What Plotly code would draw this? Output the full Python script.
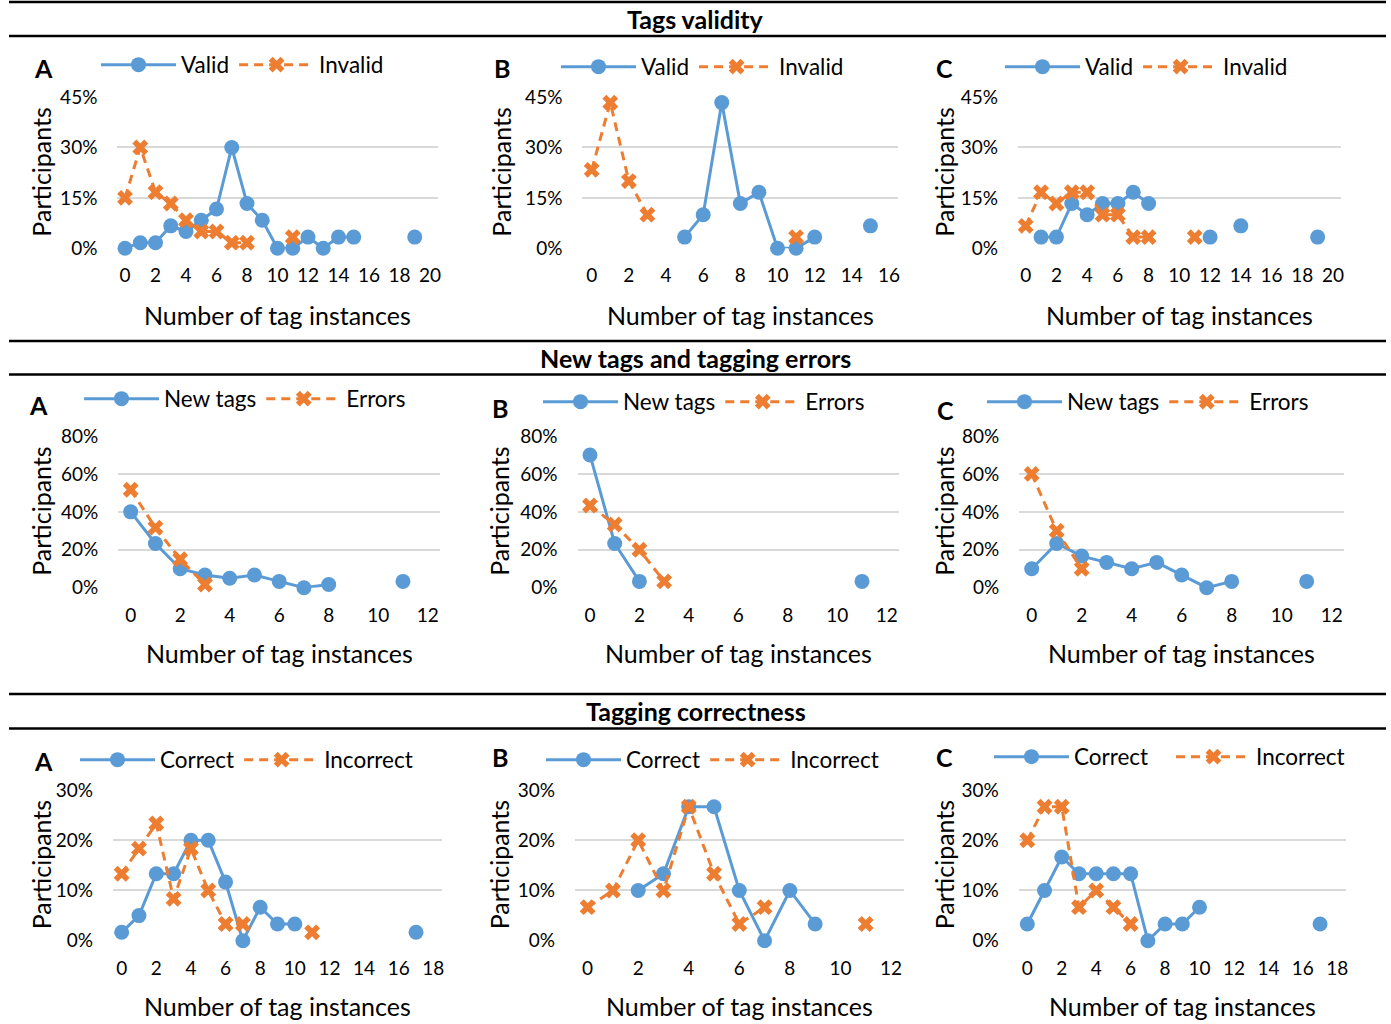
import plotly.graph_objects as go

# ---------------- data (percent of participants) ----------------
# Row 1: Tags validity
tv_A_x = [0, 1, 2, 3, 4, 5, 6, 7, 8, 9, 10, 11, 12, 13, 14, 15, 16, 17, 18, 19]
tv_A_valid = [0, 1.67, 1.67, 6.67, 5, 8.33, 11.67, 30, 13.33, 8.33, 0, 0, 3.33, 0, 3.33, 3.33, None, None, None, 3.33]
tv_A_invalid = [15, 30, 16.67, 13.33, 8.33, 5, 5, 1.67, 1.67, None, None, 3.33, None, None, None, None, None, None, None, None]

tv_B_x = [0, 1, 2, 3, 4, 5, 6, 7, 8, 9, 10, 11, 12, 13, 14, 15]
tv_B_valid = [None, None, None, None, None, 3.33, 10, 43.33, 13.33, 16.67, 0, 0, 3.33, None, None, 6.67]
tv_B_invalid = [23.33, 43.33, 20, 10, None, None, None, None, None, None, None, 3.33, None, None, None, None]

tv_C_x = [0, 1, 2, 3, 4, 5, 6, 7, 8, 9, 10, 11, 12, 13, 14, 15, 16, 17, 18, 19]
tv_C_valid = [None, 3.33, 3.33, 13.33, 10, 13.33, 13.33, 16.67, 13.33, None, None, None, 3.33, None, 6.67, None, None, None, None, 3.33]
tv_C_invalid = [6.67, 16.67, 13.33, 16.67, 16.67, 10, 10, 3.33, 3.33, None, None, 3.33, None, None, None, None, None, None, None, None]

# Row 2: New tags and tagging errors
ne_A_x = [0, 1, 2, 3, 4, 5, 6, 7, 8, 9, 10, 11]
ne_A_new = [40, 23.33, 10, 6.67, 5, 6.67, 3.33, 0, 1.67, None, None, 3.33]
ne_A_err = [51.67, 31.67, 15, 1.67, None, None, None, None, None, None, None, None]

ne_B_x = [0, 1, 2, 3, 4, 5, 6, 7, 8, 9, 10, 11]
ne_B_new = [70, 23.33, 3.33, None, None, None, None, None, None, None, None, 3.33]
ne_B_err = [43.33, 33.33, 20, 3.33, None, None, None, None, None, None, None, None]

ne_C_x = [0, 1, 2, 3, 4, 5, 6, 7, 8, 9, 10, 11]
ne_C_new = [10, 23.33, 16.67, 13.33, 10, 13.33, 6.67, 0, 3.33, None, None, 3.33]
ne_C_err = [60, 30, 10, None, None, None, None, None, None, None, None, None]

# Row 3: Tagging correctness
tc_A_x = [0, 1, 2, 3, 4, 5, 6, 7, 8, 9, 10, 11, 12, 13, 14, 15, 16, 17]
tc_A_cor = [1.67, 5, 13.33, 13.33, 20, 20, 11.67, 0, 6.67, 3.33, 3.33, None, None, None, None, None, None, 1.67]
tc_A_inc = [13.33, 18.33, 23.33, 8.33, 18.33, 10, 3.33, 3.33, None, None, None, 1.67, None, None, None, None, None, None]

tc_B_x = [0, 1, 2, 3, 4, 5, 6, 7, 8, 9, 10, 11]
tc_B_cor = [None, None, 10, 13.33, 26.67, 26.67, 10, 0, 10, 3.33, None, None]
tc_B_inc = [6.67, 10, 20, 10, 26.67, 13.33, 3.33, 6.67, None, None, None, 3.33]

tc_C_x = [0, 1, 2, 3, 4, 5, 6, 7, 8, 9, 10, 11, 12, 13, 14, 15, 16, 17]
tc_C_cor = [3.33, 10, 16.67, 13.33, 13.33, 13.33, 13.33, 0, 3.33, 3.33, 6.67, None, None, None, None, None, None, 3.33]
tc_C_inc = [20, 26.67, 26.67, 6.67, 10, 6.67, 3.33, None, None, None, None, None, None, None, None, None, None, None]

section_titles = ["Tags validity", "New tags and tagging errors", "Tagging correctness"]
panel_letters = ["A", "B", "C"]
x_title = "Number of tag instances"
y_title = "Participants"

# ---------------- layout helpers ----------------
W, H = 1391, 1024
BLUE = "#5B9BD5"
ORANGE = "#ED7D31"
GRID = "#D9D9D9"
FONT = "Lato"
LEG_PAD = 7  # plotly's inner legend padding (px)

def px_x(v):
    return v / W

def px_y(v):
    return 1 - v / H

panels = [
    dict(x=tv_A_x, s1=tv_A_valid, s2=tv_A_invalid, n1="Valid", n2="Invalid", xmax=20, ymax=45, dy=15,
         box=(117.4, 437.6, 97, 248.3), leg=(103, 65), let=(43, 68), yt=41, lw1=None),
    dict(x=tv_B_x, s1=tv_B_valid, s2=tv_B_invalid, n1="Valid", n2="Invalid", xmax=16, ymax=45, dy=15,
         box=(582.4, 898.3, 97, 248.3), leg=(563, 67), let=(502, 68), yt=501, lw1=None),
    dict(x=tv_C_x, s1=tv_C_valid, s2=tv_C_invalid, n1="Valid", n2="Invalid", xmax=20, ymax=45, dy=15,
         box=(1018, 1340.7, 97, 248.3), leg=(1007, 67), let=(944, 68), yt=944, lw1=None),
    dict(x=ne_A_x, s1=ne_A_new, s2=ne_A_err, n1="New tags", n2="Errors", xmax=12, ymax=80, dy=20,
         box=(118.3, 440.1, 436, 587.7), leg=(86, 399), let=(38.5, 405), yt=41, lw1=None),
    dict(x=ne_B_x, s1=ne_B_new, s2=ne_B_err, n1="New tags", n2="Errors", xmax=12, ymax=80, dy=20,
         box=(577.6, 899.1, 436, 587.7), leg=(545, 402), let=(499.5, 408), yt=499, lw1=None),
    dict(x=ne_C_x, s1=ne_C_new, s2=ne_C_err, n1="New tags", n2="Errors", xmax=12, ymax=80, dy=20,
         box=(1019.2, 1344.2, 436, 587.7), leg=(989, 402), let=(945.5, 410), yt=944, lw1=None),
    dict(x=tc_A_x, s1=tc_A_cor, s2=tc_A_inc, n1="Correct", n2="Incorrect", xmax=18, ymax=30, dy=10,
         box=(113, 442, 790, 940.7), leg=(82, 760), let=(43.5, 761), yt=41, lw1=None),
    dict(x=tc_B_x, s1=tc_B_cor, s2=tc_B_inc, n1="Correct", n2="Incorrect", xmax=12, ymax=30, dy=10,
         box=(575, 903.6, 790, 940.7), leg=(548, 760), let=(499.5, 757), yt=499, lw1=None),
    dict(x=tc_C_x, s1=tc_C_cor, s2=tc_C_inc, n1="Correct", n2="Incorrect", xmax=18, ymax=30, dy=10,
         box=(1018.7, 1345.9, 790, 940.7), leg=(996, 757), let=(944, 757), yt=944, lw1=92),
]
x_title_y = [315, 653, 1006]

fig = go.Figure()
annotations = []
shapes = []
layout_extra = {}

for i, p in enumerate(panels):
    k = i + 1
    xa = "x" if k == 1 else f"x{k}"
    ya = "y" if k == 1 else f"y{k}"
    lg = "legend" if k == 1 else f"legend{k}"
    l, r, t, b = p["box"]
    tr1 = dict(
        x=p["x"], y=p["s1"], name=p["n1"], mode="lines+markers",
        line=dict(color=BLUE, width=3), marker=dict(symbol="circle", size=15, color=BLUE),
        connectgaps=False, cliponaxis=False, xaxis=xa, yaxis=ya, legend=lg)
    if p["lw1"]:
        tr1["legendwidth"] = p["lw1"]
    fig.add_trace(go.Scatter(**tr1))
    fig.add_trace(go.Scatter(
        x=p["x"], y=p["s2"], name=p["n2"], mode="lines+markers",
        line=dict(color=ORANGE, width=3, dash="9px,6px"),
        marker=dict(symbol="x", size=14, color=ORANGE),
        connectgaps=False, cliponaxis=False, xaxis=xa, yaxis=ya, legend=lg))
    xkey = "xaxis" if k == 1 else f"xaxis{k}"
    ykey = "yaxis" if k == 1 else f"yaxis{k}"
    layout_extra[xkey] = dict(
        domain=[px_x(l), px_x(r)], anchor=ya, range=[-0.5, p["xmax"] + 0.5], automargin=False,
        tickmode="linear", tick0=0, dtick=2, showgrid=False, zeroline=False, showline=False,
        ticks="", ticklabelstandoff=14, tickfont=dict(family=FONT, size=19, color="#000"))
    layout_extra[ykey] = dict(
        domain=[px_y(b), px_y(t)], anchor=xa, range=[0, p["ymax"]], automargin=False,
        tickmode="linear", tick0=0, dtick=p["dy"], ticksuffix="%",
        showgrid=True, gridcolor=GRID, gridwidth=2, zeroline=False, showline=False,
        ticks="", ticklabelstandoff=19, tickfont=dict(family=FONT, size=19, color="#000"))
    layout_extra[lg] = dict(
        x=px_x(p["leg"][0] - LEG_PAD), y=px_y(p["leg"][1]), xanchor="left", yanchor="middle",
        orientation="h", itemwidth=75, bgcolor="rgba(0,0,0,0)", borderwidth=0,
        font=dict(family=FONT, size=22.5, color="#000"), tracegroupgap=0, itemclick=False)
    annotations.append(dict(text=x_title, x=px_x((l + r) / 2), y=px_y(x_title_y[i // 3]),
                            xref="paper", yref="paper", showarrow=False, xanchor="center", yanchor="middle",
                            font=dict(family=FONT, size=25, color="#000")))
    annotations.append(dict(text=y_title, x=px_x(p["yt"]), y=px_y((t + b) / 2), textangle=-90,
                            xref="paper", yref="paper", showarrow=False, xanchor="center", yanchor="middle",
                            font=dict(family=FONT, size=25, color="#000")))
    annotations.append(dict(text="<b>%s</b>" % panel_letters[i % 3], x=px_x(p["let"][0]), y=px_y(p["let"][1]),
                            xref="paper", yref="paper", showarrow=False, xanchor="center", yanchor="middle",
                            font=dict(family=FONT, size=25, color="#000")))

section_rules = [(2, 36), (341, 374.5), (694, 728.5)]
for (ya_, yb_), title in zip(section_rules, section_titles):
    for yy in (ya_, yb_):
        shapes.append(dict(type="line", xref="paper", yref="paper", x0=px_x(9), x1=px_x(1386),
                           y0=px_y(yy), y1=px_y(yy), line=dict(color="#000", width=2.5)))
    annotations.append(dict(text="<b>%s</b>" % title, x=0.5, y=px_y((ya_ + yb_) / 2),
                            xref="paper", yref="paper", showarrow=False, xanchor="center", yanchor="middle",
                            font=dict(family=FONT, size=25, color="#000")))

fig.update_layout(
    width=W, height=H, margin=dict(l=0, r=0, t=0, b=0, pad=0, autoexpand=False),
    paper_bgcolor="white", plot_bgcolor="white",
    font=dict(family=FONT, color="#000"),
    annotations=annotations, shapes=shapes, **layout_extra)

fig.write_html("out.html", config={"displayModeBar": False},
               post_script="document.body.style.margin='0px';document.body.style.overflow='hidden';")
